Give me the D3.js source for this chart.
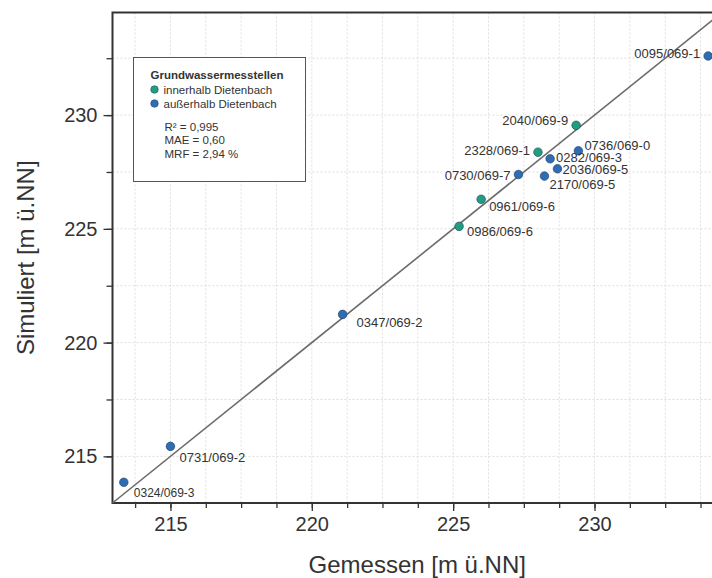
<!DOCTYPE html>
<html lang="de">
<head>
	<meta charset="UTF-8">
	<title>Gemessen vs. Simuliert</title>
	<script src="https://cdn.jsdelivr.net/npm/d3@7"></script>
	<style>
		body { margin: 0; background: #fff; }
		text { font-family: "Liberation Sans", Arial, sans-serif; fill: #333; }
	</style>
</head>
<body>
	<div id="container"></div>
	<script>
		// Messstellen
		var names = ["0324/069-3", "0731/069-2", "0347/069-2", "0986/069-6", "0961/069-6",
			"0730/069-7", "2170/069-5", "2328/069-1", "0282/069-3", "2036/069-5",
			"0736/069-0", "2040/069-9", "0095/069-1"];
		var gemessen = [213.35, 215.0, 221.09, 225.21, 225.99, 227.31, 228.23, 228.0, 228.43, 228.69, 229.43, 229.35, 234.02];
		var simuliert = [213.86, 215.44, 221.24, 225.11, 226.30, 227.39, 227.32, 228.37, 228.08, 227.64, 228.43, 229.55, 232.6];
		var gruppe = ["aussen", "aussen", "aussen", "innen", "innen", "aussen", "aussen", "innen", "aussen", "aussen", "aussen", "innen", "aussen"];

		var legendTitle = "Grundwassermesstellen";
		var legendLabels = { innen: "innerhalb Dietenbach", aussen: "außerhalb Dietenbach" };
		var stats = ["R² = 0,995", "MAE = 0,60", "MRF = 2,94 %"];
		var majorTicks = [215, 220, 225, 230];

		var width = 712, height = 578;
		var pl = 112.5, pt = 12.5, pr = 722, pb = 503;
		var lo = 212.95, hi = 234.51;

		var colors = { innen: "#1f9f80", aussen: "#2e6cb5" };

		// label placement: dx, dy, anchor
		var place = {
			"0324/069-3": [10, 11, "start"],
			"0731/069-2": [9, 11, "start"],
			"0347/069-2": [14, 8, "start"],
			"0986/069-6": [8, 5, "start"],
			"0961/069-6": [8, 7, "start"],
			"0730/069-7": [-8, 1, "end"],
			"2170/069-5": [5, 8, "start"],
			"2328/069-1": [-8, -2, "end"],
			"0282/069-3": [6, -1, "start"],
			"2036/069-5": [5, 1, "start"],
			"0736/069-0": [6, -5, "start"],
			"2040/069-9": [-8, -5, "end"],
			"0095/069-1": [-8, -3, "end"]
		};

		var svg = d3.select("#container").append("svg")
				.attr("width", width)
				.attr("height", height);

		var x = d3.scaleLinear().domain([lo, hi]).range([pl, pr]);
		var y = d3.scaleLinear().domain([lo, hi]).range([pb, pt]);

		var xMinor = d3.range(213.75, hi, 1.25);
		var yMinor = d3.range(215, hi, 2.5);

		// grid
		svg.append("g").selectAll("line").data(xMinor)
			.enter().append("line")
				.attr("x1", d => x(d)).attr("x2", d => x(d))
				.attr("y1", pt).attr("y2", pb)
				.attr("stroke", "#dedede").attr("stroke-dasharray", "2,2");
		svg.append("g").selectAll("line").data(yMinor)
			.enter().append("line")
				.attr("y1", d => y(d)).attr("y2", d => y(d))
				.attr("x1", pl).attr("x2", pr)
				.attr("stroke", "#dedede").attr("stroke-dasharray", "2,2");

		// axes
		var xAxis = d3.axisBottom(x).tickValues(xMinor).tickSize(5).tickFormat("");
		var yAxis = d3.axisLeft(y).tickValues(yMinor).tickSize(6).tickFormat("");
		var gx = svg.append("g").attr("transform", "translate(0," + pb + ")").call(xAxis);
		var gy = svg.append("g").attr("transform", "translate(" + pl + ",0)").call(yAxis);
		[gx, gy].forEach(g => {
			g.select(".domain").remove();
			g.selectAll("line").attr("stroke", "#333").attr("stroke-width", 1.3);
		});
		var gxm = svg.append("g").attr("transform", "translate(0," + pb + ")")
			.call(d3.axisBottom(x).tickValues(majorTicks).tickSize(8).tickPadding(6));
		var gym = svg.append("g").attr("transform", "translate(" + pl + ",0)")
			.call(d3.axisLeft(y).tickValues(majorTicks).tickSize(9).tickPadding(6));
		[gxm, gym].forEach(g => {
			g.select(".domain").remove();
			g.selectAll("line").attr("stroke", "#333").attr("stroke-width", 1.3);
			g.selectAll("text").attr("font-size", 20).attr("font-family", "Liberation Sans, Arial, sans-serif").attr("fill", "#333");
		});

		// frame
		svg.append("path")
			.attr("d", "M" + pr + "," + pt + "H" + pl + "V" + pb + "H" + pr)
			.attr("fill", "none").attr("stroke", "#333").attr("stroke-width", 2);

		// 1:1 line
		svg.append("line")
			.attr("x1", x(lo)).attr("y1", y(lo))
			.attr("x2", x(hi)).attr("y2", y(hi))
			.attr("stroke", "#6b6b6b").attr("stroke-width", 1.6);

		// points
		var idx = d3.range(names.length);
		svg.append("g").selectAll("circle").data(idx)
			.enter().append("circle")
				.attr("cx", i => x(gemessen[i]))
				.attr("cy", i => y(simuliert[i]))
				.attr("r", 4.3)
				.attr("fill", i => colors[gruppe[i]])
				.attr("stroke", "#1d3d5c").attr("stroke-width", 0.6);

		svg.append("g").selectAll("text").data(idx)
			.enter().append("text")
				.attr("x", i => x(gemessen[i]) + place[names[i]][0])
				.attr("y", i => y(simuliert[i]) + place[names[i]][1])
				.attr("dy", "0.35em")
				.attr("text-anchor", i => place[names[i]][2])
				.attr("font-size", i => names[i] == "0324/069-3" ? 12 : 13)
				.text(i => names[i]);

		// legend
		var lg = svg.append("g").attr("transform", "translate(133.5,57.5)");
		lg.append("rect").attr("width", 172).attr("height", 124)
			.attr("fill", "#fff").attr("stroke", "#555").attr("stroke-width", 1);
		lg.append("text").attr("x", 17).attr("y", 21)
			.attr("font-size", 11.5).attr("font-weight", "bold").text(legendTitle);
		["innen", "aussen"].forEach((k, i) => {
			lg.append("circle").attr("cx", 21).attr("cy", 32 + i * 14).attr("r", 3.8)
				.attr("fill", colors[k]).attr("stroke", "#1d3d5c").attr("stroke-width", 0.5);
			lg.append("text").attr("x", 30).attr("y", 32 + i * 14).attr("dy", "0.35em")
				.attr("font-size", 11.5).text(legendLabels[k]);
		});
		stats.forEach((s, i) => {
			lg.append("text").attr("x", 31).attr("y", 69 + i * 13.5).attr("dy", "0.35em")
				.attr("font-size", 11.5).text(s);
		});

		// axis titles
		svg.append("text").attr("x", (pl + pr) / 2).attr("y", 573)
			.attr("text-anchor", "middle").attr("font-size", 24).text("Gemessen [m ü.NN]");
		svg.append("text").attr("transform", "translate(34," + ((pt + pb) / 2) + ") rotate(-90)")
			.attr("text-anchor", "middle").attr("font-size", 24).text("Simuliert [m ü.NN]");
	</script>
</body>
</html>
